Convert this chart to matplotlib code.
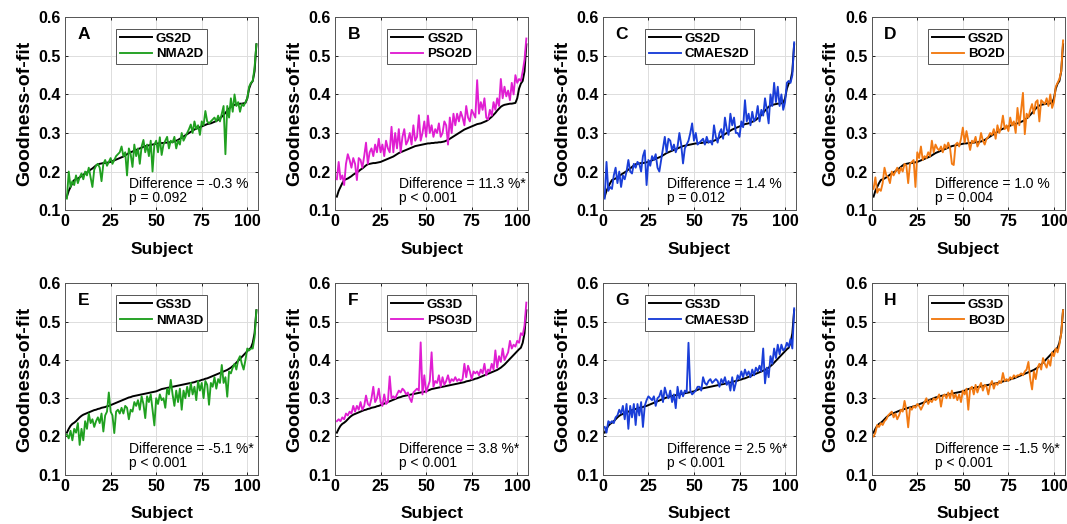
import matplotlib
matplotlib.use("Agg")
import matplotlib.pyplot as plt
import numpy as np

plt.rcParams['font.family'] = ['Liberation Sans', 'DejaVu Sans']

# sorted grid-search fits (shared by the four panels of a row)
gs2d = [0.135, 0.150, 0.160, 0.170, 0.178, 0.180, 0.182, 0.185, 0.188, 0.192,
        0.195, 0.198, 0.201, 0.205, 0.208, 0.212, 0.216, 0.219, 0.220, 0.221,
        0.222, 0.222, 0.223, 0.224, 0.225, 0.227, 0.229, 0.231, 0.233, 0.235,
        0.237, 0.239, 0.242, 0.245, 0.248, 0.250, 0.252, 0.254, 0.256, 0.258,
        0.260, 0.262, 0.264, 0.266, 0.267, 0.268, 0.269, 0.270, 0.271, 0.272,
        0.273, 0.273, 0.274, 0.274, 0.275, 0.275, 0.276, 0.276, 0.277, 0.278,
        0.280, 0.282, 0.285, 0.288, 0.291, 0.294, 0.297, 0.300, 0.303, 0.306,
        0.309, 0.311, 0.313, 0.315, 0.317, 0.319, 0.321, 0.323, 0.324, 0.325,
        0.327, 0.329, 0.331, 0.334, 0.338, 0.342, 0.347, 0.352, 0.358, 0.363,
        0.368, 0.371, 0.373, 0.374, 0.375, 0.376, 0.376, 0.377, 0.378, 0.390,
        0.415, 0.428, 0.435, 0.460, 0.530]

gs3d = [0.210, 0.220, 0.228, 0.233, 0.236, 0.240, 0.245, 0.250, 0.254, 0.257,
        0.259, 0.261, 0.263, 0.265, 0.267, 0.269, 0.270, 0.272, 0.273, 0.275,
        0.276, 0.277, 0.279, 0.280, 0.282, 0.284, 0.286, 0.288, 0.290, 0.292,
        0.294, 0.296, 0.298, 0.300, 0.302, 0.303, 0.305, 0.306, 0.307, 0.308,
        0.309, 0.310, 0.311, 0.312, 0.313, 0.314, 0.315, 0.316, 0.317, 0.318,
        0.320, 0.322, 0.324, 0.325, 0.326, 0.327, 0.328, 0.329, 0.330, 0.331,
        0.332, 0.333, 0.334, 0.335, 0.336, 0.337, 0.338, 0.339, 0.340, 0.341,
        0.342, 0.344, 0.345, 0.346, 0.348, 0.349, 0.351, 0.352, 0.354, 0.356,
        0.358, 0.360, 0.362, 0.364, 0.366, 0.368, 0.370, 0.372, 0.374, 0.377,
        0.380, 0.384, 0.388, 0.393, 0.398, 0.403, 0.408, 0.413, 0.418, 0.423,
        0.428, 0.432, 0.445, 0.470, 0.530]

nma2d = [0.130, 0.200, 0.160, 0.175, 0.165, 0.190, 0.170, 0.185, 0.195, 0.180,
         0.200, 0.190, 0.210, 0.185, 0.160, 0.205, 0.215, 0.220, 0.210, 0.175,
         0.220, 0.230, 0.215, 0.225, 0.235, 0.220, 0.230, 0.240, 0.245, 0.250,
         0.265, 0.240, 0.250, 0.190, 0.260, 0.245, 0.212, 0.270, 0.240, 0.260,
         0.220, 0.265, 0.282, 0.250, 0.270, 0.240, 0.280, 0.200, 0.270, 0.280,
         0.250, 0.289, 0.243, 0.270, 0.280, 0.290, 0.260, 0.280, 0.275, 0.290,
         0.260, 0.280, 0.270, 0.300, 0.280, 0.290, 0.300, 0.310, 0.322, 0.300,
         0.330, 0.310, 0.320, 0.295, 0.330, 0.320, 0.357, 0.330, 0.325, 0.330,
         0.335, 0.340, 0.330, 0.345, 0.330, 0.350, 0.370, 0.245, 0.370, 0.340,
         0.390, 0.355, 0.400, 0.370, 0.380, 0.355, 0.375, 0.370, 0.380, 0.390,
         0.420, 0.430, 0.435, 0.470, 0.530]

pso2d = [0.180, 0.225, 0.180, 0.190, 0.165, 0.220, 0.245, 0.230, 0.210, 0.235,
         0.220, 0.178, 0.235, 0.230, 0.210, 0.240, 0.275, 0.220, 0.250, 0.260,
         0.240, 0.270, 0.250, 0.285, 0.250, 0.270, 0.240, 0.280, 0.260, 0.250,
         0.316, 0.250, 0.300, 0.260, 0.310, 0.250, 0.290, 0.310, 0.270, 0.280,
         0.300, 0.270, 0.320, 0.280, 0.290, 0.346, 0.280, 0.300, 0.330, 0.290,
         0.345, 0.300, 0.320, 0.290, 0.310, 0.300, 0.325, 0.290, 0.300, 0.330,
         0.320, 0.270, 0.340, 0.300, 0.350, 0.320, 0.350, 0.330, 0.355, 0.340,
         0.320, 0.370, 0.340, 0.330, 0.360, 0.350, 0.340, 0.437, 0.350, 0.380,
         0.360, 0.390, 0.340, 0.335, 0.360, 0.345, 0.380, 0.360, 0.390, 0.370,
         0.440, 0.390, 0.420, 0.395, 0.410, 0.385, 0.430, 0.400, 0.450, 0.430,
         0.440, 0.435, 0.460, 0.490, 0.545]

cmaes2d = [0.130, 0.225, 0.150, 0.160, 0.155, 0.190, 0.210, 0.170, 0.200, 0.160,
           0.190, 0.180, 0.200, 0.230, 0.200, 0.195, 0.220, 0.210, 0.225, 0.220,
           0.200, 0.240, 0.255, 0.165, 0.230, 0.215, 0.240, 0.230, 0.245, 0.210,
           0.200, 0.230, 0.260, 0.290, 0.250, 0.285, 0.280, 0.255, 0.270, 0.250,
           0.265, 0.300, 0.270, 0.221, 0.260, 0.270, 0.280, 0.300, 0.325, 0.280,
           0.300, 0.270, 0.275, 0.280, 0.285, 0.270, 0.290, 0.275, 0.280, 0.270,
           0.320, 0.290, 0.275, 0.300, 0.310, 0.285, 0.340, 0.310, 0.295, 0.350,
           0.320, 0.340, 0.300, 0.300, 0.290, 0.330, 0.315, 0.385, 0.330, 0.350,
           0.320, 0.355, 0.330, 0.340, 0.370, 0.330, 0.360, 0.345, 0.390, 0.360,
           0.325, 0.400, 0.370, 0.430, 0.380, 0.420, 0.370, 0.400, 0.360, 0.380,
           0.430, 0.435, 0.430, 0.450, 0.535]

bo2d = [0.155, 0.185, 0.145, 0.155, 0.150, 0.170, 0.210, 0.190, 0.185, 0.170,
        0.200, 0.190, 0.200, 0.210, 0.195, 0.210, 0.200, 0.220, 0.215, 0.170,
        0.220, 0.225, 0.230, 0.160, 0.250, 0.235, 0.265, 0.230, 0.240, 0.235,
        0.250, 0.240, 0.280, 0.250, 0.270, 0.260, 0.255, 0.265, 0.250, 0.270,
        0.260, 0.275, 0.260, 0.220, 0.217, 0.270, 0.275, 0.265, 0.285, 0.314,
        0.275, 0.305, 0.280, 0.256, 0.280, 0.275, 0.290, 0.265, 0.275, 0.300,
        0.280, 0.270, 0.285, 0.290, 0.300, 0.295, 0.310, 0.285, 0.320, 0.300,
        0.315, 0.345, 0.310, 0.320, 0.305, 0.340, 0.320, 0.330, 0.300, 0.365,
        0.320, 0.360, 0.404, 0.297, 0.350, 0.340, 0.360, 0.375, 0.350, 0.380,
        0.385, 0.330, 0.385, 0.380, 0.375, 0.390, 0.370, 0.400, 0.365, 0.380,
        0.420, 0.430, 0.440, 0.460, 0.540]

nma3d = [0.205, 0.195, 0.215, 0.190, 0.220, 0.210, 0.235, 0.178, 0.220, 0.190,
         0.240, 0.220, 0.260, 0.235, 0.245, 0.225, 0.240, 0.250, 0.235, 0.260,
         0.213, 0.255, 0.265, 0.315, 0.265, 0.255, 0.209, 0.265, 0.270, 0.260,
         0.275, 0.260, 0.280, 0.275, 0.245, 0.270, 0.265, 0.290, 0.280, 0.295,
         0.270, 0.305, 0.285, 0.248, 0.305, 0.290, 0.310, 0.270, 0.229, 0.300,
         0.285, 0.310, 0.295, 0.300, 0.275, 0.325, 0.310, 0.348, 0.310, 0.280,
         0.320, 0.290, 0.325, 0.270, 0.320, 0.300, 0.330, 0.305, 0.340, 0.310,
         0.330, 0.295, 0.345, 0.320, 0.340, 0.300, 0.345, 0.335, 0.283, 0.340,
         0.330, 0.355, 0.325, 0.350, 0.340, 0.387, 0.340, 0.355, 0.304, 0.370,
         0.365, 0.380, 0.390, 0.375, 0.400, 0.410, 0.390, 0.375, 0.400, 0.430,
         0.425, 0.430, 0.430, 0.460, 0.530]

pso3d = [0.240, 0.245, 0.240, 0.250, 0.245, 0.260, 0.255, 0.265, 0.260, 0.280,
         0.265, 0.280, 0.270, 0.290, 0.270, 0.280, 0.307, 0.285, 0.280, 0.300,
         0.330, 0.290, 0.300, 0.325, 0.290, 0.280, 0.310, 0.285, 0.290, 0.357,
         0.300, 0.305, 0.300, 0.310, 0.320, 0.315, 0.325, 0.320, 0.310, 0.315,
         0.300, 0.290, 0.315, 0.320, 0.325, 0.320, 0.446, 0.310, 0.360, 0.315,
         0.330, 0.345, 0.420, 0.330, 0.345, 0.340, 0.360, 0.330, 0.355, 0.335,
         0.345, 0.360, 0.340, 0.350, 0.345, 0.355, 0.345, 0.350, 0.345, 0.350,
         0.390, 0.355, 0.385, 0.370, 0.350, 0.370, 0.365, 0.370, 0.360, 0.375,
         0.365, 0.390, 0.360, 0.375, 0.370, 0.390, 0.375, 0.425, 0.380, 0.410,
         0.395, 0.430, 0.400, 0.410, 0.420, 0.450, 0.430, 0.440, 0.435, 0.450,
         0.445, 0.470, 0.465, 0.490, 0.550]

cmaes3d = [0.225, 0.210, 0.240, 0.235, 0.240, 0.235, 0.250, 0.255, 0.270, 0.260,
           0.280, 0.245, 0.285, 0.220, 0.280, 0.250, 0.285, 0.230, 0.285, 0.255,
           0.290, 0.225, 0.280, 0.295, 0.305, 0.300, 0.295, 0.305, 0.280, 0.300,
           0.305, 0.320, 0.290, 0.328, 0.310, 0.300, 0.320, 0.290, 0.310, 0.274,
           0.330, 0.300, 0.320, 0.305, 0.320, 0.315, 0.445, 0.320, 0.310, 0.315,
           0.320, 0.330, 0.330, 0.320, 0.355, 0.340, 0.335, 0.345, 0.350, 0.340,
           0.345, 0.350, 0.345, 0.330, 0.350, 0.340, 0.355, 0.335, 0.345, 0.320,
           0.355, 0.320, 0.340, 0.360, 0.350, 0.370, 0.355, 0.375, 0.360, 0.370,
           0.355, 0.375, 0.360, 0.380, 0.370, 0.385, 0.370, 0.430, 0.339, 0.380,
           0.355, 0.410, 0.390, 0.430, 0.405, 0.440, 0.415, 0.440, 0.425, 0.430,
           0.445, 0.435, 0.455, 0.430, 0.535]

bo3d = [0.200, 0.210, 0.230, 0.225, 0.235, 0.230, 0.240, 0.245, 0.255, 0.260,
        0.265, 0.250, 0.260, 0.245, 0.255, 0.270, 0.265, 0.293, 0.270, 0.224,
        0.275, 0.270, 0.280, 0.275, 0.285, 0.280, 0.270, 0.280, 0.290, 0.300,
        0.285, 0.295, 0.290, 0.300, 0.295, 0.300, 0.310, 0.278, 0.305, 0.310,
        0.300, 0.315, 0.300, 0.320, 0.300, 0.310, 0.295, 0.310, 0.290, 0.320,
        0.310, 0.325, 0.270, 0.325, 0.330, 0.310, 0.335, 0.315, 0.330, 0.340,
        0.320, 0.335, 0.330, 0.310, 0.335, 0.345, 0.325, 0.340, 0.335, 0.345,
        0.340, 0.366, 0.345, 0.350, 0.345, 0.355, 0.350, 0.360, 0.355, 0.360,
        0.360, 0.365, 0.360, 0.370, 0.375, 0.395, 0.350, 0.323, 0.370, 0.350,
        0.380, 0.390, 0.375, 0.405, 0.390, 0.380, 0.400, 0.385, 0.420, 0.410,
        0.430, 0.420, 0.440, 0.470, 0.530]

letters = ['A', 'B', 'C', 'D', 'E', 'F', 'G', 'H']
ref_names = ['GS2D'] * 4 + ['GS3D'] * 4
alg_names = ['NMA2D', 'PSO2D', 'CMAES2D', 'BO2D', 'NMA3D', 'PSO3D', 'CMAES3D', 'BO3D']
alg_data = [nma2d, pso2d, cmaes2d, bo2d, nma3d, pso3d, cmaes3d, bo3d]
ref_data = [gs2d] * 4 + [gs3d] * 4
diffs = ['-0.3 %', '11.3 %*', '1.4 %', '1.0 %', '-5.1 %*', '3.8 %*', '2.5 %*', '-1.5 %*']
pvals = ['p = 0.092', 'p < 0.001', 'p = 0.012', 'p = 0.004',
         'p < 0.001', 'p < 0.001', 'p < 0.001', 'p < 0.001']
colors = ['#20a020', '#e01ed2', '#1a3ed8', '#f27a12'] * 2

fig = plt.figure(figsize=(10.67, 5.24), dpi=100)
lefts = [0.061, 0.314, 0.565, 0.817]
bottoms = [0.599, 0.094]
heights = [0.368, 0.365]

for i in range(8):
    r, c = divmod(i, 4)
    ax = fig.add_axes([lefts[c], bottoms[r], 0.181, heights[r]])
    ref = np.array(ref_data[i])
    alg = np.array(alg_data[i])
    subj = np.arange(1, len(ref) + 1)
    ax.plot(subj, ref, color='black', lw=1.4, label=ref_names[i])
    ax.plot(subj, alg, color=colors[i], lw=1.35, label=alg_names[i])
    ax.set_xlim(0, 106)
    ax.set_ylim(0.1, 0.6)
    ax.set_xticks([0, 25, 50, 75, 100])
    ax.set_yticks([0.1, 0.2, 0.3, 0.4, 0.5, 0.6])
    ax.set_yticklabels(['0.1', '0.2', '0.3', '0.4', '0.5', '0.6'])
    ax.grid(True, color='#dddddd', lw=0.7)
    ax.set_axisbelow(True)
    ax.tick_params(direction='in', length=2.5, width=0.6, labelsize=11.5,
                   top=True, right=True, pad=3)
    for lab in ax.get_xticklabels() + ax.get_yticklabels():
        lab.set_fontweight('bold')
    for sp in ax.spines.values():
        sp.set_color('#555555')
        sp.set_linewidth(0.7)
    ax.set_xlabel('Subject', fontsize=12.5, fontweight='bold', labelpad=9)
    ax.set_ylabel('Goodness-of-fit', fontsize=14, fontweight='bold', labelpad=4)
    ax.text(0.065, 0.95, letters[i], transform=ax.transAxes, fontsize=12.5,
            fontweight='bold', va='top', ha='left')
    leg = ax.legend(loc='upper center', bbox_to_anchor=(0.5, 0.975),
                    prop={'weight': 'bold', 'size': 9.5}, handlelength=2.4,
                    handletextpad=0.3, borderpad=0.3, labelspacing=0.25,
                    fancybox=False, framealpha=1, edgecolor='#555555')
    leg.get_frame().set_linewidth(0.7)
    ax.text(0.33, 0.115, 'Difference = ' + diffs[i], transform=ax.transAxes,
            fontsize=10, va='baseline', ha='left')
    ax.text(0.33, 0.04, pvals[i], transform=ax.transAxes,
            fontsize=10, va='baseline', ha='left')

fig.savefig('out.png', dpi=100)
